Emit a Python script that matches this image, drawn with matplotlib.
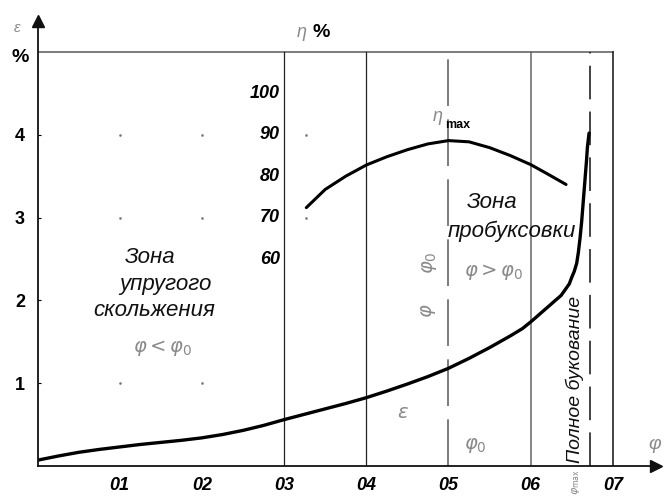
import matplotlib
matplotlib.use("Agg")
import matplotlib.pyplot as plt

# ---------------- data ----------------
phi_eps = [0.0, 0.025, 0.05, 0.075, 0.10, 0.125, 0.15, 0.175, 0.20, 0.225, 0.25,
           0.275, 0.30, 0.325, 0.35, 0.375, 0.40, 0.425, 0.45, 0.475, 0.50, 0.525,
           0.55, 0.575, 0.59, 0.60, 0.607, 0.615, 0.622, 0.63, 0.637, 0.642,
           0.647, 0.650, 0.653, 0.656, 0.658, 0.660, 0.662, 0.664, 0.666, 0.668,
           0.669, 0.671]
eps_vals = [0.07, 0.12, 0.165, 0.20, 0.23, 0.26, 0.285, 0.31, 0.34, 0.38, 0.43,
            0.49, 0.56, 0.625, 0.69, 0.755, 0.825, 0.905, 0.99, 1.08, 1.18, 1.30,
            1.43, 1.57, 1.66, 1.74, 1.80, 1.87, 1.93, 2.00, 2.06, 2.13,
            2.20, 2.28, 2.35, 2.45, 2.58, 2.75, 2.95, 3.20, 3.45, 3.70,
            3.85, 4.02]

phi_eta = [0.327, 0.35, 0.375, 0.40, 0.425, 0.45, 0.475, 0.50, 0.525, 0.55,
           0.575, 0.60, 0.62, 0.643]
eta_vals = [72.4, 76.8, 80.0, 82.7, 84.7, 86.4, 87.8, 88.6, 88.3, 86.9,
            85.0, 82.8, 80.6, 78.0]

x_ticks = [0.1, 0.2, 0.3, 0.4, 0.5, 0.6, 0.7]
x_tick_labels = ["01", "02", "03", "04", "05", "06", "07"]
y_ticks = [1, 2, 3, 4]
y_tick_labels = ["1", "2", "3", "4"]
eta_ticks = [60, 70, 80, 90, 100]
eta_tick_labels = ["60", "70", "80", "90", "100"]

phi_0 = 0.5
phi_max = 0.672
eps_top = 5

dot_x = [0.1, 0.2, 0.1, 0.2, 0.1, 0.2, 0.327, 0.327]
dot_y = [1, 1, 3, 3, 4, 4, 3, 4]

# ---------------- figure ----------------
FONT = ["Liberation Sans Narrow", "Liberation Sans", "DejaVu Sans"]
plt.rcParams["font.family"] = FONT

fig = plt.figure(figsize=(6.65, 4.97), dpi=100)
ax = fig.add_axes([37.5 / 665, 31 / 497, (665 - 37.5) / 665, (466 - 10.6) / 497])
ax.set_xlim(0, 0.7634)
ax.set_ylim(0, 5.5)

for s in ["top", "right"]:
    ax.spines[s].set_visible(False)
ax.spines["left"].set_bounds(0, 5.3)
ax.spines["bottom"].set_bounds(0, 0.75)
for s in ["left", "bottom"]:
    ax.spines[s].set_linewidth(1.3)
    ax.spines[s].set_color("#111111")

# arrows
ax.plot([0], [5.37], marker="^", color="#111111", markersize=9, clip_on=False)
ax.plot([0.752], [0], marker=">", color="#111111", markersize=9, clip_on=False)

# ticks
ax.set_xticks(x_ticks)
ax.set_xticklabels(x_tick_labels, fontsize=13, fontweight="bold", style="italic")
ax.tick_params(axis="x", length=0, pad=8)
ax.set_yticks(y_ticks)
ax.set_yticklabels(y_tick_labels, fontsize=13, fontweight="bold")
ax.tick_params(axis="y", direction="in", length=2, pad=9, width=0.8)

# top line and vertical lines
ax.plot([0, 0.7], [eps_top, eps_top], color="#666666", lw=1.2)
ax.plot([0.3, 0.3], [0, eps_top], color="#222222", lw=0.9)
ax.plot([0.4, 0.4], [0, eps_top], color="#222222", lw=0.9)
ax.plot([phi_0, phi_0], [0, eps_top], color="#666666", lw=1.2, dashes=(28, 8))
ax.plot([0.6, 0.6], [0, eps_top], color="#666666", lw=1.1)
ax.plot([phi_max, phi_max], [0, eps_top], color="#111111", lw=1.1, dashes=(22, 8))
ax.plot([0.7, 0.7], [0, eps_top], color="#111111", lw=1.1)

# grid dots
ax.plot(dot_x, dot_y, linestyle="none", marker="s", markersize=0.8, color="#777777")

# epsilon curve
ax.plot(phi_eps, eps_vals, color="black", lw=2.4, solid_capstyle="round",
        solid_joinstyle="round")

# eta curve on twin scale
ax2 = ax.twinx()
ax2.set_ylim(10, 120)
ax2.set_position(ax.get_position())
ax2.axis("off")
ax2.plot(phi_eta, eta_vals, color="black", lw=2.2, solid_capstyle="round",
         solid_joinstyle="round")
for t, lab in zip(eta_ticks, eta_tick_labels):
    ax2.text(0.295, t, lab, ha="right", va="center", fontsize=13,
             fontweight="bold", style="italic")

grey = "#8a8a8a"
# axis labels
ax.text(-0.025, 5.29, "ε", ha="center", va="center", fontsize=11, color=grey,
        style="italic", clip_on=False)
ax.text(-0.021, 4.93, "%", ha="center", va="center", fontsize=14,
        fontweight="bold", clip_on=False)
ax.text(0.322, 5.24, "η", ha="center", va="center", fontsize=13, color=grey,
        style="italic")
ax.text(0.345, 5.24, "%", ha="center", va="center", fontsize=14,
        fontweight="bold")
ax.text(0.487, 4.22, "η", ha="center", va="center", fontsize=13, color=grey,
        style="italic")
ax.text(0.511, 4.12, "max", ha="center", va="center", fontsize=9,
        fontweight="bold")
ax.text(0.751, 0.26, "φ", ha="center", va="center", fontsize=14, color=grey,
        style="italic")

# zone texts
tkw = dict(ha="center", va="center", fontsize=16, style="italic", color="#111111")
ax.text(0.137, 2.52, "Зона", **tkw)
ax.text(0.156, 2.19, "упругого", **tkw)
ax.text(0.142, 1.88, "скольжения", **tkw)
ax.text(0.553, 3.18, "Зона", **tkw)
ax.text(0.577, 2.83, "пробуксовки", **tkw)
ax.text(0.654, 1.05, "Полное букование", ha="center", va="center", fontsize=14,
        style="italic", rotation=90, color="#111111")

mkw = dict(ha="center", va="center", fontsize=14, color=grey, style="italic")
ax.text(0.152, 1.43, r"$\varphi < \varphi_0$", **mkw)
ax.text(0.555, 2.34, r"$\varphi > \varphi_0$", **mkw)
ax.text(0.477, 2.45, r"$\varphi_0$", rotation=90, **mkw)
ax.text(0.476, 1.88, r"$\varphi$", rotation=90, **mkw)
ax.text(0.444, 0.64, r"$\varepsilon$", **mkw)
ax.text(0.533, 0.25, r"$\varphi_0$", **mkw)
ax.text(0.655, -0.19, r"$\varphi_{\max}$", rotation=90, ha="center", va="center",
        fontsize=8, color=grey, clip_on=False)

fig.savefig("out.png", dpi=100)
